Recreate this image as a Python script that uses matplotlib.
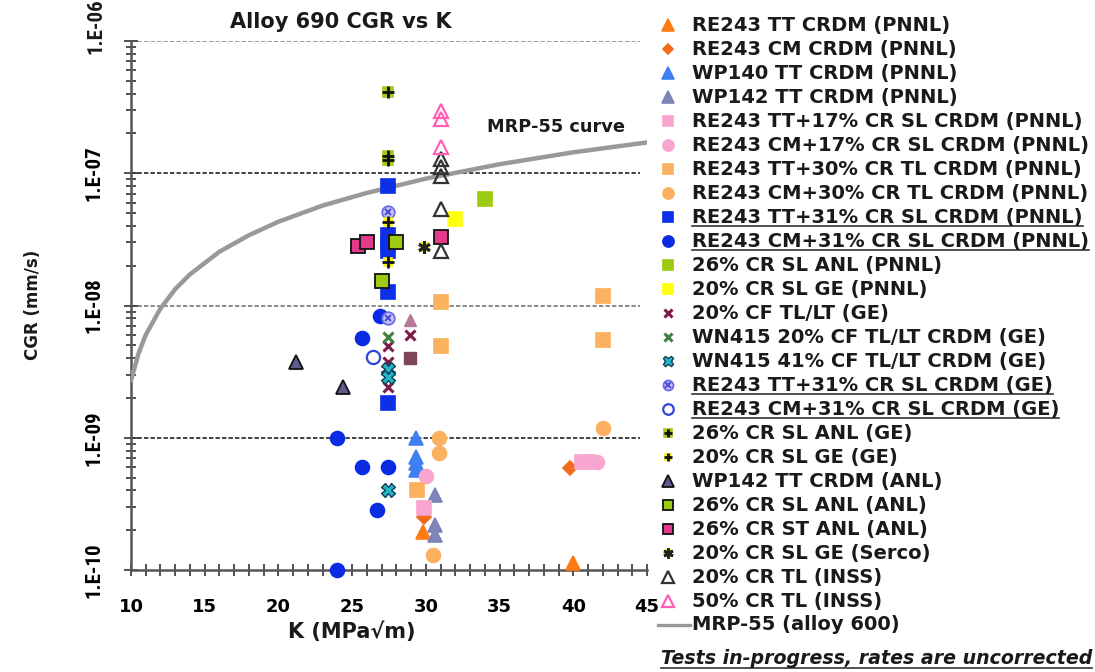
import matplotlib
matplotlib.use("Agg")
import numpy as np
import matplotlib.pyplot as plt
from matplotlib import font_manager
from matplotlib.ticker import LogLocator, MultipleLocator, NullFormatter

# ---------------------------------------------------------------------------
# Crack growth rate (mm/s) versus stress intensity K (MPa*sqrt(m))
# ---------------------------------------------------------------------------
re243_tt_pnnl_k = [29.8, 40.0]
re243_tt_pnnl_cgr = [1.95e-10, 1.13e-10]
re243_cm_pnnl_k = [39.8, 29.9]
re243_cm_pnnl_cgr = [5.9e-10, 2.5e-10]
wp140_tt_pnnl_k = [29.3, 29.3, 29.3, 29.3]
wp140_tt_pnnl_cgr = [1.0e-9, 7.1e-10, 6.4e-10, 5.7e-10]
wp142_tt_pnnl_k = [30.6, 30.6, 30.6]
wp142_tt_pnnl_cgr = [3.7e-10, 2.2e-10, 1.85e-10]
tt17_pnnl_k = [29.9, 40.6, 41.0]
tt17_pnnl_cgr = [2.95e-10, 6.6e-10, 6.6e-10]
cm17_pnnl_k = [30.0, 41.6]
cm17_pnnl_cgr = [5.1e-10, 6.5e-10]
tt30_pnnl_k = [31.0, 31.0, 42.0, 42.0, 29.4]
tt30_pnnl_cgr = [1.07e-8, 4.9e-9, 1.17e-8, 5.5e-9, 4.0e-10]
cm30_pnnl_k = [30.9, 30.9, 30.5, 42.0]
cm30_pnnl_cgr = [1.0e-9, 7.7e-10, 1.3e-10, 1.19e-9]
tt31_pnnl_k = [27.4, 27.4, 27.4, 27.4, 27.4, 27.4]
tt31_pnnl_cgr = [8.0e-8, 3.4e-8, 2.9e-8, 2.57e-8, 1.26e-8, 1.84e-9]
cm31_pnnl_k = [25.7, 24.0, 24.0, 25.7, 26.7, 27.4, 26.9]
cm31_pnnl_cgr = [5.7e-9, 1.0e-9, 1.0e-10, 6.0e-10, 2.85e-10, 6.0e-10, 8.3e-9]
cr26_sl_anl_pnnl_k = [34.0]
cr26_sl_anl_pnnl_cgr = [6.35e-8]
cr20_sl_ge_pnnl_k = [32.0]
cr20_sl_ge_pnnl_cgr = [4.5e-8]
cf20_ge_k = [27.4, 27.4, 27.4, 28.9]
cf20_ge_cgr = [4.9e-9, 3.77e-9, 2.43e-9, 6.0e-9]
wn415_cf20_k = [27.4]
wn415_cf20_cgr = [5.8e-9]
wn415_cf41_k = [27.4, 27.4, 27.4]
wn415_cf41_cgr = [3.3e-9, 2.9e-9, 4.0e-10]
tt31_ge_k = [27.4, 27.4]
tt31_ge_cgr = [8.1e-9, 5.07e-8]
cm31_ge_k = [26.4]
cm31_ge_cgr = [4.1e-9]
cr26_sl_anl_ge_k = [27.4, 27.4, 27.4]
cr26_sl_anl_ge_cgr = [4.1e-7, 1.35e-7, 1.25e-7]
cr20_sl_ge_ge_k = [27.4, 27.4]
cr20_sl_ge_ge_cgr = [4.25e-8, 2.12e-8]
wp142_tt_anl_k = [21.2, 24.35]
wp142_tt_anl_cgr = [3.77e-9, 2.43e-9]
cr26_sl_anl_anl_k = [28.0, 27.0]
cr26_sl_anl_anl_cgr = [3.0e-8, 1.52e-8]
cr26_st_anl_anl_k = [25.4, 26.0, 31.0]
cr26_st_anl_anl_cgr = [2.8e-8, 3.0e-8, 3.27e-8]
cr20_sl_ge_serco_k = [29.9]
cr20_sl_ge_serco_cgr = [2.75e-8]
cr20_tl_inss_k = [31.0, 31.0, 31.0, 31.0, 31.0]
cr20_tl_inss_cgr = [1.28e-7, 1.11e-7, 9.5e-8, 5.4e-8, 2.57e-8]
cr50_tl_inss_k = [31.0, 31.0, 31.0]
cr50_tl_inss_cgr = [2.95e-7, 2.57e-7, 1.57e-7]
# points without a legend entry
extra_tri_k = [28.9]
extra_tri_cgr = [7.8e-9]
extra_sq_k = [28.9]
extra_sq_cgr = [4.0e-9]

# MRP-55 disposition curve for alloy 600
mrp_k = [10, 10.5, 11, 12, 13, 14, 16, 18, 20, 23, 26, 30, 35, 40, 45]
mrp_cgr = [2.7e-9, 4.3e-9, 6.0e-9, 9.5e-9, 1.33e-8, 1.72e-8, 2.55e-8, 3.4e-8,
           4.3e-8, 5.7e-8, 7.1e-8, 9.1e-8, 1.17e-7, 1.44e-7, 1.71e-7]

series_labels = [
    "RE243 TT CRDM (PNNL)", "RE243 CM CRDM (PNNL)", "WP140 TT CRDM (PNNL)",
    "WP142 TT CRDM (PNNL)", "RE243 TT+17% CR SL CRDM (PNNL)",
    "RE243 CM+17% CR SL CRDM (PNNL)", "RE243 TT+30% CR TL CRDM (PNNL)",
    "RE243 CM+30% CR TL CRDM (PNNL)", "RE243 TT+31% CR SL CRDM (PNNL)",
    "RE243 CM+31% CR SL CRDM (PNNL)", "26% CR SL ANL (PNNL)",
    "20% CR SL GE (PNNL)", "20% CF TL/LT (GE)", "WN415 20% CF TL/LT CRDM (GE)",
    "WN415 41% CF TL/LT CRDM (GE)", "RE243 TT+31% CR SL CRDM (GE)",
    "RE243 CM+31% CR SL CRDM (GE)", "26% CR SL ANL (GE)", "20% CR SL GE (GE)",
    "WP142 TT CRDM (ANL)", "26% CR SL ANL (ANL)", "26% CR ST ANL (ANL)",
    "20% CR SL GE (Serco)", "20% CR TL (INSS)", "50% CR TL (INSS)",
]
series_k = [re243_tt_pnnl_k, re243_cm_pnnl_k, wp140_tt_pnnl_k, wp142_tt_pnnl_k,
            tt17_pnnl_k, cm17_pnnl_k, tt30_pnnl_k, cm30_pnnl_k, tt31_pnnl_k,
            cm31_pnnl_k, cr26_sl_anl_pnnl_k, cr20_sl_ge_pnnl_k, cf20_ge_k,
            wn415_cf20_k, wn415_cf41_k, tt31_ge_k, cm31_ge_k, cr26_sl_anl_ge_k,
            cr20_sl_ge_ge_k, wp142_tt_anl_k, cr26_sl_anl_anl_k,
            cr26_st_anl_anl_k, cr20_sl_ge_serco_k, cr20_tl_inss_k,
            cr50_tl_inss_k]
series_cgr = [re243_tt_pnnl_cgr, re243_cm_pnnl_cgr, wp140_tt_pnnl_cgr,
              wp142_tt_pnnl_cgr, tt17_pnnl_cgr, cm17_pnnl_cgr, tt30_pnnl_cgr,
              cm30_pnnl_cgr, tt31_pnnl_cgr, cm31_pnnl_cgr,
              cr26_sl_anl_pnnl_cgr, cr20_sl_ge_pnnl_cgr, cf20_ge_cgr,
              wn415_cf20_cgr, wn415_cf41_cgr, tt31_ge_cgr, cm31_ge_cgr,
              cr26_sl_anl_ge_cgr, cr20_sl_ge_ge_cgr, wp142_tt_anl_cgr,
              cr26_sl_anl_anl_cgr, cr26_st_anl_anl_cgr, cr20_sl_ge_serco_cgr,
              cr20_tl_inss_cgr, cr50_tl_inss_cgr]
underlined = {"RE243 TT+31% CR SL CRDM (PNNL)", "RE243 CM+31% CR SL CRDM (PNNL)",
              "RE243 TT+31% CR SL CRDM (GE)", "RE243 CM+31% CR SL CRDM (GE)"}

x_ticks = [10, 15, 20, 25, 30, 35, 40, 45]
x_tick_labels = ["10", "15", "20", "25", "30", "35", "40", "45"]
y_ticks = [1e-10, 1e-9, 1e-8, 1e-7, 1e-6]
y_tick_labels = ["1.E-10", "1.E-09", "1.E-08", "1.E-07", "1.E-06"]

# ---------------------------------------------------------------------------
# marker styles (layers drawn on top of each other)
# ---------------------------------------------------------------------------
def solid(marker, color, ms=9.5, edge=None, mew=1.2):
    return dict(marker=marker, ms=ms, mfc=color, mec=edge or color, mew=mew)

STYLE = {
    "RE243 TT CRDM (PNNL)": [solid('^', '#FF7A12', 10.5)],
    "RE243 CM CRDM (PNNL)": [solid('D', '#F26B1D', 7)],
    "WP140 TT CRDM (PNNL)": [solid('^', '#3F7FEF', 10.5)],
    "WP142 TT CRDM (PNNL)": [solid('^', '#7D85B8', 10.5)],
    "RE243 TT+17% CR SL CRDM (PNNL)": [solid('s', '#F8A6D0')],
    "RE243 CM+17% CR SL CRDM (PNNL)": [solid('o', '#F8A6D0', 10)],
    "RE243 TT+30% CR TL CRDM (PNNL)": [solid('s', '#FBB160')],
    "RE243 CM+30% CR TL CRDM (PNNL)": [solid('o', '#FBB160', 10)],
    "RE243 TT+31% CR SL CRDM (PNNL)": [solid('s', '#0B30E8')],
    "RE243 CM+31% CR SL CRDM (PNNL)": [solid('o', '#0B2BE3', 10)],
    "26% CR SL ANL (PNNL)": [solid('s', '#9DCB12')],
    "20% CR SL GE (PNNL)": [solid('s', '#FFFF10')],
    "20% CF TL/LT (GE)": [dict(marker='x', ms=7.5, mec='#7B1E48', mew=2.2)],
    "WN415 20% CF TL/LT CRDM (GE)": [dict(marker='x', ms=7.5, mec='#3F7F3F', mew=2.2)],
    "WN415 41% CF TL/LT CRDM (GE)": [solid('X', '#22B5CC', 9.5, '#0F3F55', 1.0)],
    "RE243 TT+31% CR SL CRDM (GE)": [solid('o', '#C9C5F2', 9, '#6A6AE8', 1.3),
                                     dict(marker='x', ms=5, mec='#5050D8', mew=1.5)],
    "RE243 CM+31% CR SL CRDM (GE)": [dict(marker='o', ms=9.5, mfc='none',
                                          mec='#3344DD', mew=1.6)],
    "26% CR SL ANL (GE)": [solid('s', '#A2C91C', 7.5),
                           dict(marker='+', ms=8, mec='#111111', mew=2)],
    "20% CR SL GE (GE)": [solid('s', '#F2F01A', 6),
                          dict(marker='+', ms=8, mec='#111111', mew=2)],
    "WP142 TT CRDM (ANL)": [solid('^', '#5D5C8C', 10.5, '#111111', 1.3)],
    "26% CR SL ANL (ANL)": [solid('s', '#9DCB12', 9.5, '#111111', 1.3)],
    "26% CR ST ANL (ANL)": [solid('s', '#E33A8C', 9.5, '#111111', 1.3)],
    "20% CR SL GE (Serco)": [solid('s', '#EEE81A', 6),
                             dict(marker=(6, 2, 0), ms=9, mec='#222222', mew=2)],
    "20% CR TL (INSS)": [dict(marker='^', ms=10.5, mfc='none', mec='#333333', mew=1.6)],
    "50% CR TL (INSS)": [dict(marker='^', ms=10.5, mfc='none', mec='#FF5FB4', mew=1.6)],
}

# ---------------------------------------------------------------------------
def first_font(names):
    for name in names:
        try:
            font_manager.findfont(font_manager.FontProperties(family=name),
                                  fallback_to_default=False)
            return name
        except Exception:
            continue
    return None

NARROW = first_font(["Liberation Sans Narrow", "DejaVu Sans Condensed",
                     "Roboto Condensed", "Open Sans Condensed"])
if NARROW is None:
    NARROW, YLAB_SIZE = "DejaVu Sans", 10
else:
    YLAB_SIZE = 15
plt.rcParams["font.family"] = ["DejaVu Sans"]

W, H = 1095, 672
fig = plt.figure(figsize=(W / 100, H / 100), dpi=100)
fig.patch.set_facecolor("white")

ax_l, ax_r, ax_t, ax_b = 131, 647, 41, 570
ax = fig.add_axes([ax_l / W, 1 - ax_b / H, (ax_r - ax_l) / W, (ax_b - ax_t) / H])
ax.set_facecolor("none")
ax.set_yscale("log")
ax.set_xlim(10, 45)
ax.set_ylim(1e-10, 1e-6)

# decade reference lines
line_cols = {1e-9: "#222222", 1e-8: "#777777", 1e-7: "#222222", 1e-6: "#888888"}
for v in y_ticks[1:]:
    ax.axhline(v, xmin=0, xmax=0.986, color=line_cols[v], lw=1.2,
               ls=(0, (2.6, 1.3)), zorder=1)

# MRP-55 curve
ax.plot(mrp_k, mrp_cgr, color="#999999", lw=3.2, solid_capstyle="round", zorder=2.6)

# data series
for lbl, ks, cs in zip(series_labels, series_k, series_cgr):
    for layer in STYLE[lbl]:
        ax.plot(ks, cs, ls="none", clip_on=False, zorder=3, **layer)
ax.plot(extra_tri_k, extra_tri_cgr, ls="none", marker="^", ms=9, mfc="#B57898",
        mec="#B57898", clip_on=False, zorder=3)
ax.plot(extra_sq_k, extra_sq_cgr, ls="none", marker="s", ms=8, mfc="#7E4656",
        mec="#7E4656", clip_on=False, zorder=3)

# spines / ticks
for s in ("top", "right"):
    ax.spines[s].set_visible(False)
for s in ("left", "bottom"):
    ax.spines[s].set_color("#555555")
    ax.spines[s].set_linewidth(1.8)

ax.set_xticks(x_ticks, labels=x_tick_labels, fontsize=13, fontweight="bold")
ax.xaxis.set_minor_locator(MultipleLocator(1))
ax.tick_params(axis="x", which="both", direction="inout", length=8, width=1.2,
               color="#333333", pad=16)

shown_y = y_tick_labels[:-1] + [""]
ax.set_yticks(y_ticks, labels=shown_y, fontsize=YLAB_SIZE, fontweight="bold",
              family=NARROW, rotation=90, va="center")
ax.yaxis.set_minor_locator(LogLocator(base=10, subs=np.arange(2, 10)))
ax.yaxis.set_minor_formatter(NullFormatter())
ax.tick_params(axis="y", which="major", direction="inout", length=10, width=1.2,
               color="#333333", pad=15)
ax.tick_params(axis="y", which="minor", direction="inout", length=7, width=1.2,
               color="#333333")
# the top decade label sits a little higher, inside the figure
fig.text(96 / W, 1 - 26 / H, y_tick_labels[-1], rotation=90, ha="center",
         va="center", fontsize=YLAB_SIZE, fontweight="bold", family=NARROW,
         color="#1a1a1a")

fig.text(341 / W, 1 - 22 / H, "Alloy 690 CGR vs K", ha="center", va="center",
         fontsize=15, fontweight="bold", color="#1a1a1a")
fig.text(487 / W, 1 - 127 / H, "MRP-55 curve", ha="left", va="center",
         fontsize=12.8, fontweight="bold", color="#1a1a1a")
fig.text(352 / W, 1 - 632 / H, "K (MPa\u221am)", ha="center", va="center",
         fontsize=15, fontweight="bold", color="#1a1a1a")
fig.text(33 / W, 1 - 305 / H, "CGR (mm/s)", rotation=90, ha="center",
         va="center", fontsize=12, fontweight="bold", color="#1a1a1a")

# ---------------------------------------------------------------------------
# legend drawn in pixel coordinates
# ---------------------------------------------------------------------------
lax = fig.add_axes([0, 0, 1, 1], zorder=5)
lax.set_xlim(0, W)
lax.set_ylim(H, 0)
lax.axis("off")
lax.patch.set_alpha(0)

row0, dy, mx, tx = 25, 24.0, 668, 692
renderer = fig.canvas.get_renderer()
entries = []
for i, lbl in enumerate(series_labels):
    y = row0 + i * dy
    for layer in STYLE[lbl]:
        st = dict(layer)
        st["ms"] = st["ms"] * 0.8
        lax.plot([mx], [y], ls="none", clip_on=False, **st)
    t = lax.text(tx, y, lbl, ha="left", va="center", fontsize=14,
                 fontweight="bold", color="#1a1a1a")
    entries.append((lbl, t, y))

y_mrp = row0 + len(series_labels) * dy
lax.plot([658, 690], [y_mrp, y_mrp], color="#999999", lw=2.4)
lax.text(tx, y_mrp, "MRP-55 (alloy 600)", ha="left", va="center", fontsize=14,
         fontweight="bold", color="#1a1a1a")

note = lax.text(661, 658, "Tests in-progress, rates are uncorrected", ha="left",
                va="center", fontsize=13.7, fontweight="bold", style="italic",
                color="#1a1a1a")

for lbl, t, y in entries:
    if lbl in underlined:
        bb = t.get_window_extent(renderer)
        lax.plot([bb.x0, bb.x1], [y + 9, y + 9], color="#333333", lw=1.2)
bb = note.get_window_extent(renderer)
lax.plot([bb.x0, bb.x1], [668, 668], color="#333333", lw=1.2)

fig.savefig("out.png", dpi=100, facecolor="white")
